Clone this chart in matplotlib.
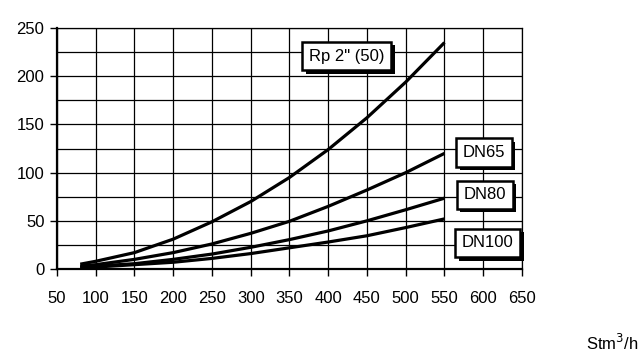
import numpy as np
import matplotlib
matplotlib.use('Agg')
import matplotlib.pyplot as plt
import matplotlib.patheffects as pe

plt.rcParams['font.family'] = ['Liberation Sans', 'DejaVu Sans']

flow = [80, 100, 150, 200, 250, 300, 350, 400, 450, 500, 550]
rp50 = [5, 8, 17, 31, 49, 70, 95, 124, 157, 194, 235]
dn65 = [3, 4.5, 10, 17, 26, 37, 49.5, 65, 82, 100, 120]
dn80 = [2, 3, 5.5, 10, 15.5, 22.5, 30.5, 39.5, 50, 61.5, 73.5]
dn100 = [1.5, 2, 4.5, 7, 11, 16, 22, 28, 34.5, 43, 52]

series = [rp50, dn65, dn80, dn100]
labels = ['Rp 2" (50)', 'DN65', 'DN80', 'DN100']
label_pos = [(424, 221), (601, 121), (602, 77), (606, 27)]

x_ticks = np.arange(50, 651, 50)
y_ticks = np.arange(0, 251, 50)

fig = plt.figure(figsize=(6.44, 3.59), dpi=100)
ax = fig.add_axes([0.0885, 0.2507, 0.722, 0.671])

for s in series:
    ax.plot(flow, s, color='black', lw=2.3, solid_capstyle='butt', zorder=3)

for text, (lx, ly) in zip(labels, label_pos):
    t = ax.text(lx, ly, text, ha='center', va='center', fontsize=12, zorder=5,
                bbox=dict(boxstyle='square,pad=0.4', fc='white', ec='black', lw=1.8))
    t.get_bbox_patch().set_path_effects([
        pe.SimplePatchShadow(offset=(2.5, -2.5), shadow_rgbFace='black', alpha=1),
        pe.Normal()])

ax.set_xlim(50, 650)
ax.set_ylim(0, 250)
ax.set_xticks(x_ticks)
ax.set_yticks(y_ticks)
ax.set_yticks(np.arange(0, 251, 25), minor=True)
ax.grid(True, which='major', color='black', lw=0.9)
ax.grid(True, which='minor', axis='y', color='black', lw=0.9)
ax.tick_params(axis='y', which='minor', length=0)
ax.tick_params(axis='both', which='major', labelsize=12, length=5, width=1, direction='out', color='black')
ax.tick_params(axis='x', pad=11)
ax.tick_params(axis='y', pad=4)

for side in ['top', 'right']:
    ax.spines[side].set_linewidth(0.9)
for side in ['left', 'bottom']:
    ax.spines[side].set_linewidth(1.6)

fig.text(0.951, 0.045, 'Stm$^3$/h', ha='center', va='center', fontsize=12)

fig.savefig('out.png', dpi=100)
